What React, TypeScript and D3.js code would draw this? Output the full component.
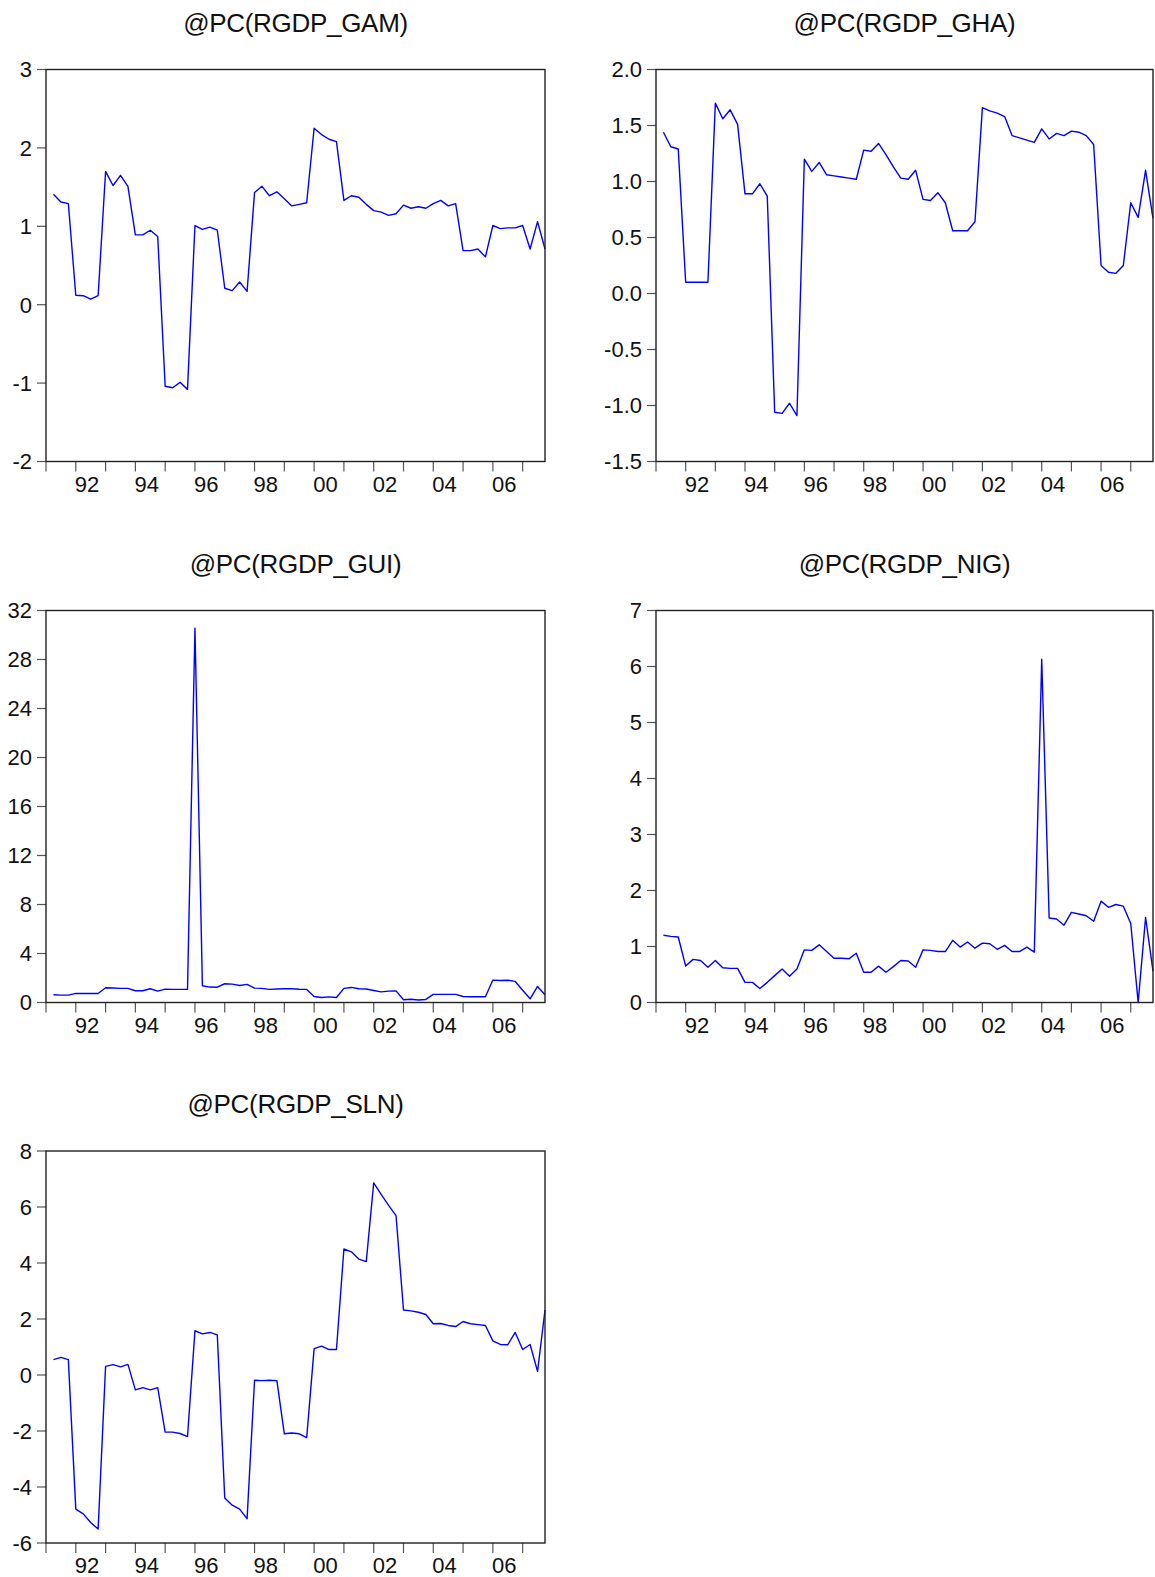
import React from "react";
import { scaleLinear, line, range } from "d3";

// quarterly percent changes, 1991Q2 .. 2007Q4
const gam = [
  1.41, 1.31, 1.29,
  0.12, 0.115, 0.07, 0.115,
  1.7, 1.52, 1.65, 1.51,
  0.89, 0.89, 0.95, 0.87,
  -1.04, -1.06, -0.99, -1.08,
  1.01, 0.96, 0.99, 0.95,
  0.21, 0.18, 0.29, 0.17,
  1.43, 1.51, 1.39, 1.44,
  1.35, 1.26, 1.28, 1.3,
  2.25, 2.17, 2.11, 2.08,
  1.33, 1.39, 1.37, 1.28,
  1.2, 1.18, 1.14, 1.16,
  1.27, 1.23, 1.25, 1.23,
  1.29, 1.33, 1.26, 1.29,
  0.69, 0.69, 0.71, 0.61,
  1.01, 0.97, 0.98, 0.98,
  1.01, 0.71, 1.06, 0.71,
];

const gha = [
  1.44, 1.31, 1.29,
  0.1, 0.1, 0.1, 0.1,
  1.7, 1.56, 1.64, 1.51,
  0.89, 0.89, 0.98, 0.87,
  -1.06, -1.07, -0.98, -1.09,
  1.2, 1.09, 1.17, 1.06,
  1.05, 1.04, 1.03, 1.02,
  1.28, 1.27, 1.34, 1.24,
  1.13, 1.03, 1.02, 1.1,
  0.84, 0.83, 0.9, 0.81,
  0.56, 0.56, 0.56, 0.64,
  1.66, 1.63, 1.61, 1.58,
  1.41, 1.39, 1.37, 1.35,
  1.47, 1.38, 1.43, 1.41,
  1.45, 1.44, 1.41, 1.33,
  0.25, 0.19, 0.18, 0.25,
  0.81, 0.68, 1.1, 0.67,
];

const gui = [
  0.63, 0.6, 0.6,
  0.74, 0.74, 0.74, 0.74,
  1.2, 1.18, 1.15, 1.15,
  0.96, 0.96, 1.12, 0.93,
  1.09, 1.07, 1.07, 1.07,
  30.55, 1.37, 1.26, 1.25,
  1.53, 1.5, 1.39, 1.48,
  1.17, 1.15, 1.07, 1.1,
  1.12, 1.12, 1.08, 1.07,
  0.49, 0.41, 0.46, 0.41,
  1.15, 1.23, 1.12, 1.1,
  0.98, 0.87, 0.93, 0.95,
  0.22, 0.27, 0.2, 0.25,
  0.66, 0.66, 0.66, 0.66,
  0.49, 0.47, 0.47, 0.47,
  1.83, 1.8, 1.82, 1.72,
  1.0, 0.3, 1.31, 0.63,
];

const nig = [
  1.2, 1.18, 1.17,
  0.65, 0.77, 0.75, 0.63,
  0.75, 0.62, 0.61, 0.61,
  0.36, 0.36, 0.25, 0.36,
  0.48, 0.6, 0.47, 0.6,
  0.94, 0.93, 1.03, 0.91,
  0.79, 0.79, 0.78, 0.88,
  0.54, 0.54, 0.65, 0.54,
  0.64, 0.75, 0.74, 0.63,
  0.94, 0.93, 0.91, 0.91,
  1.11, 0.99, 1.08, 0.97,
  1.06, 1.05, 0.95, 1.02,
  0.91, 0.91, 0.99, 0.9,
  6.13, 1.51, 1.49, 1.38,
  1.61, 1.58, 1.55, 1.45,
  1.81, 1.7, 1.75, 1.72,
  1.41, 0.0, 1.52, 0.56,
];

const sln = [
  0.55, 0.63, 0.55,
  -4.79, -4.96, -5.27, -5.5,
  0.31, 0.37, 0.29, 0.38,
  -0.53, -0.45, -0.53, -0.45,
  -2.04, -2.04, -2.09, -2.2,
  1.58, 1.47, 1.52, 1.43,
  -4.39, -4.65, -4.79, -5.13,
  -0.19, -0.2, -0.19, -0.2,
  -2.1, -2.07, -2.1, -2.24,
  0.94, 1.03, 0.91, 0.91,
  4.5, 4.4, 4.14, 4.05,
  6.86, 6.45, 6.06, 5.69,
  2.32, 2.29, 2.24, 2.16,
  1.83, 1.84, 1.77, 1.73,
  1.91, 1.83, 1.8, 1.77,
  1.22, 1.09, 1.08, 1.52,
  0.91, 1.09, 0.13, 2.32,
];

const yearTicks = range(1991, 2008);
const yearLabels = ["92", "94", "96", "98", "00", "02", "04", "06"];
const labelYears = [1992, 1994, 1996, 1998, 2000, 2002, 2004, 2006];

const panels = [
  { title: "@PC(RGDP_GAM)", values: gam, domain: [-2, 3], ticks: [-2, -1, 0, 1, 2, 3], digits: 0 },
  { title: "@PC(RGDP_GHA)", values: gha, domain: [-1.5, 2], ticks: [-1.5, -1, -0.5, 0, 0.5, 1, 1.5, 2], digits: 1 },
  { title: "@PC(RGDP_GUI)", values: gui, domain: [0, 32], ticks: [0, 4, 8, 12, 16, 20, 24, 28, 32], digits: 0 },
  { title: "@PC(RGDP_NIG)", values: nig, domain: [0, 7], ticks: [0, 1, 2, 3, 4, 5, 6, 7], digits: 0 },
  { title: "@PC(RGDP_SLN)", values: sln, domain: [-6, 8], ticks: [-6, -4, -2, 0, 2, 4, 6, 8], digits: 0 },
];

const colLeft = [46, 656];
const colRight = [545, 1153];
const rowTop = [69.5, 610.5, 1151];
const plotH = 392;
const font = "'Liberation Sans', Arial, sans-serif";

function Panel({ p, left, right, top }) {
  const bottom = top + plotH;
  const x = scaleLinear().domain([1991, 2007.75]).range([left, right]);
  const y = scaleLinear().domain(p.domain).range([bottom, top]);
  const pts = p.values.map((v, i) => [1991 + (i + 1) / 4, v]);
  const path = line()
    .x((d) => x(d[0]))
    .y((d) => y(d[1]))(pts);

  return (
    <g>
      <text
        x={(left + right) / 2}
        y={top - 38}
        textAnchor="middle"
        fontSize={26}
        fontFamily={font}
        fill="#111"
        letterSpacing={-0.3}
      >
        {p.title}
      </text>
      {p.ticks.map((t) => (
        <g key={t}>
          <line x1={left - 9} x2={left} y1={y(t)} y2={y(t)} stroke="#555" strokeWidth={1.2} />
          <text
            x={left - 14}
            y={y(t)}
            dy="0.36em"
            textAnchor="end"
            fontSize={22}
            fontFamily={font}
            fill="#111"
          >
            {t.toFixed(p.digits)}
          </text>
        </g>
      ))}
      {yearTicks.map((yr) => (
        <line key={yr} x1={x(yr)} x2={x(yr)} y1={bottom} y2={bottom + 10} stroke="#555" strokeWidth={1.2} />
      ))}
      {yearLabels.map((lab, i) => (
        <text
          key={lab}
          x={x(labelYears[i] + 0.38)}
          y={bottom + 30}
          textAnchor="middle"
          fontSize={22}
          fontFamily={font}
          fill="#111"
        >
          {lab}
        </text>
      ))}
      <path d={path} fill="none" stroke="#0000ff" strokeWidth={1.4} strokeLinejoin="round" />
      <rect x={left} y={top} width={right - left} height={plotH} fill="none" stroke="#222" strokeWidth={1.4} />
    </g>
  );
}

export default function App() {
  return (
    <svg
      width={1155}
      height={1577}
      style={{ position: "absolute", left: 0, top: 0, background: "#fff" }}
    >
      <rect width={1155} height={1577} fill="#fff" />
      {panels.map((p, i) => (
        <Panel
          key={p.title}
          p={p}
          left={colLeft[i % 2]}
          right={colRight[i % 2]}
          top={rowTop[Math.floor(i / 2)]}
        />
      ))}
    </svg>
  );
}
